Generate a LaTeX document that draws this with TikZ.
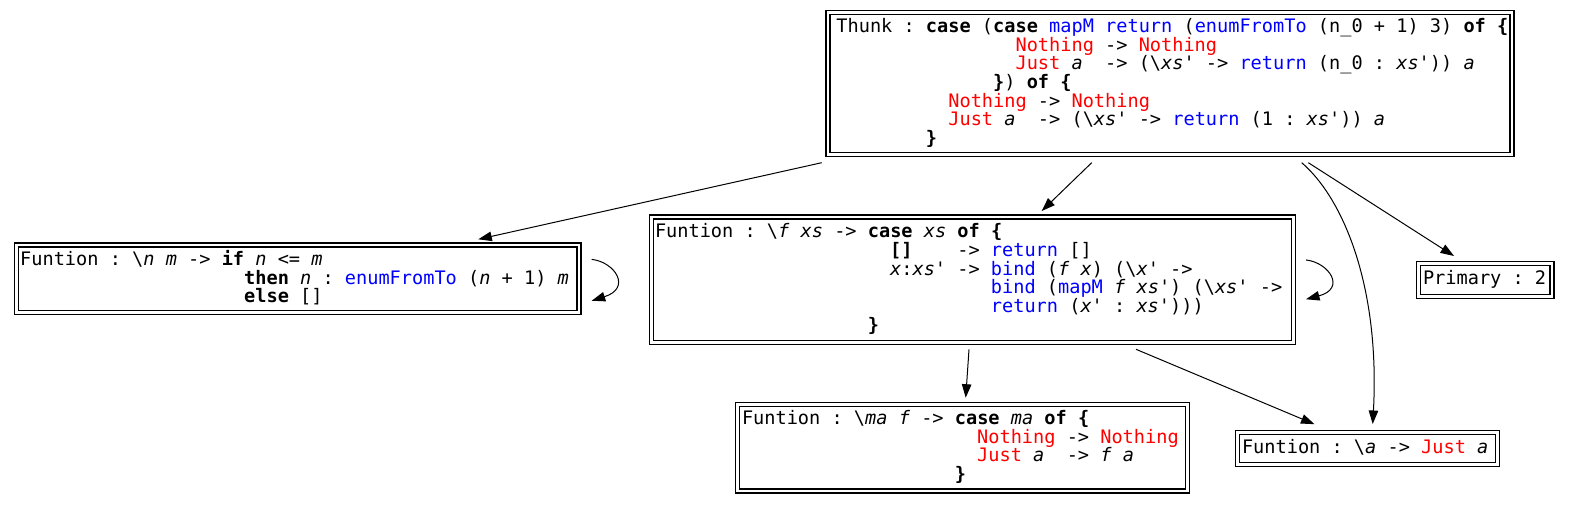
\documentclass[tikz,border=0pt]{standalone}
\usepackage{fontspec}
\setmonofont{DejaVu Sans Mono}[BoldFont={DejaVu Sans Mono Bold},ItalicFont={DejaVu Sans Mono Oblique},BoldItalicFont={DejaVu Sans Mono Bold Oblique}]
\usetikzlibrary{arrows.meta,calc}
\newcommand\codefont{\ttfamily\fontsize{18.6pt}{18.7pt}\selectfont\frenchspacing}
\newcommand\ind[1]{\hspace*{#1\fontcharwd\font`x}}
\newcommand\kw[1]{\textbf{#1}}
\newcommand\vr[1]{\textit{#1}}
\newcommand\bl[1]{\textcolor{blue}{#1}}
\newcommand\rd[1]{\textcolor{red}{#1}}
\newcommand\bs{\textbackslash}
\newcommand\cl[1]{\hbox{\vrule width 0pt height 14.2pt depth 4.5pt #1}}
\newcommand\codebox[3]{\makebox[#1][l]{\hspace*{#2}\vbox{\baselineskip=18.7pt\lineskiplimit=-\maxdimen\lineskip=0pt #3}}}
\begin{document}
\begin{tikzpicture}[x=1pt,y=-1pt,
  box/.style={draw=black, double=white, double distance=2.9pt, line width=1.1pt,
    inner sep=0pt, outer sep=0pt, font=\codefont},
  link/.style={draw=black, line width=1pt, -{Triangle[length=13.5pt,width=9.5pt]}}]
\path[use as bounding box] (0,0) rectangle (1570,504);

\node[box, minimum width=684pt, minimum height=142.1pt] (thunk) at (1170,83.65) {\codebox{684pt}{8.4pt}{%
\cl{Thunk : \kw{case} (\kw{case} \bl{mapM} \bl{return} (\bl{enumFromTo} (n\_0 + 1) 3) \kw{of \{}}
\cl{\ind{16}\rd{Nothing} -> \rd{Nothing}}
\cl{\ind{16}\rd{Just} \vr{a}~ -> (\bs\vr{xs}' -> \bl{return} (n\_0 : \vr{xs}')) \vr{a}}
\cl{\ind{14}\kw{\}}) \kw{of \{}}
\cl{\ind{10}\rd{Nothing} -> \rd{Nothing}}
\cl{\ind{10}\rd{Just} \vr{a}~ -> (\bs\vr{xs}' -> \bl{return} (1 : \vr{xs}')) \vr{a}}
\cl{\ind{8}\kw{\}}}}};

\node[box, minimum width=562.3pt, minimum height=67.7pt] (enum) at (297.85,278.85) {\codebox{562.3pt}{3.5pt}{%
\cl{Funtion : \bs\vr{n} \vr{m} -> \kw{if} \vr{n} <= \vr{m}}
\cl{\ind{20}\kw{then} \vr{n} : \bl{enumFromTo} (\vr{n} + 1) \vr{m}}
\cl{\ind{20}\kw{else} []}}};

\node[box, minimum width=641.7pt, minimum height=125.5pt] (mapm) at (972.65,279.75) {\codebox{641.7pt}{3.2pt}{%
\cl{Funtion : \bs\vr{f} \vr{xs} -> \kw{case} \vr{xs} \kw{of \{}}
\cl{\ind{21}\kw{[]}~~~ -> \bl{return} []}
\cl{\ind{21}\vr{x}:\vr{xs}' -> \bl{bind} (\vr{f} \vr{x}) (\bs\vr{x}' ->}
\cl{\ind{30}\bl{bind} (\bl{mapM} \vr{f} \vr{xs}') (\bs\vr{xs}' ->}
\cl{\ind{30}\bl{return} (\vr{x}' : \vr{xs}')))}
\cl{\ind{19}\kw{\}}}}};

\node[box, minimum width=133.3pt, minimum height=32.6pt] (prim) at (1485.35,280) {\codebox{133.3pt}{4.3pt}{\cl{Primary : 2}}};

\node[box, minimum width=450.5pt, minimum height=86.8pt] (bind) at (962.45,447.6) {\codebox{450.5pt}{4.8pt}{%
\cl{Funtion : \bs\vr{ma} \vr{f} -> \kw{case} \vr{ma} \kw{of \{}}
\cl{\ind{21}\rd{Nothing} -> \rd{Nothing}}
\cl{\ind{21}\rd{Just} \vr{a}~ -> \vr{f} \vr{a}}
\cl{\ind{19}\kw{\}}}}};

\node[box, minimum width=259.5pt, minimum height=32pt] (just) at (1367.55,448.2) {\codebox{259.5pt}{4.2pt}{%
\cl{Funtion : \bs\vr{a} -> \rd{Just} \vr{a}}}};

% connectors
\draw[link] ($(thunk.south west)+(-6.3,8)$) -- ($(enum.north)+(180.45,-5.7)$);
\draw[link] ($(thunk.south)+(-78.3,8)$) -- ($(mapm.north)+(69.05,-6)$);
\draw[link] ($(thunk.south)+(131.7,8)$) .. controls ($(thunk.south)+(175,45.3)$) and ($(just.north)+(12.45,-142.2)$) .. ($(just.north)+(5.15,-8.2)$);
\draw[link] ($(thunk.south)+(138.3,8)$) -- ($(prim.north)+(-31.35,-7.7)$);
\draw[link] ($(mapm.south)+(-3.65,6.8)$) -- ($(bind.north)+(3.25,-6.5)$);
\draw[link] ($(mapm.south)+(163.35,6.8)$) -- ($(just.north)+(-53.05,-8)$);
\draw[link] ($(enum.east)+(12.7,-19.5)$) .. controls ($(enum.east)+(36,-16.8)$) and ($(enum.east)+(53,9.2)$) .. ($(enum.east)+(12.7,21.9)$);
\draw[link] ($(mapm.east)+(12.5,-19.8)$) .. controls ($(mapm.east)+(35.8,-17.1)$) and ($(mapm.east)+(52.8,8.9)$) .. ($(mapm.east)+(12.5,19.5)$);
\end{tikzpicture}
\end{document}
